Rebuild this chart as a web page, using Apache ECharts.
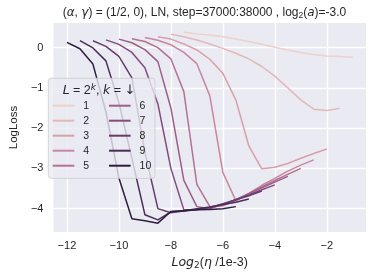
<!DOCTYPE html>
<html><head><meta charset="utf-8">
<script src="https://cdn.jsdelivr.net/npm/echarts@6/dist/echarts.min.js"></script>
<style>html,body{margin:0;padding:0;background:#fff}#c{width:374px;height:276px}</style>
</head><body><div id="c"></div>
<script>
// log2(eta / 1e-3) grid of learning rates
const etaGrid = [-12, -11.5, -11, -10.5, -10, -9.5, -9, -8.5, -8, -7.5, -7, -6.5, -6, -5.5, -5, -4.5, -4, -3.5, -3, -2.5, -2, -1.5, -1];
// LogLoss per depth level k (L = 2^k); null = not run
const lossK1  = [null, null, null, null, null, null, null, null, null, 0.38, 0.34, 0.31, 0.27, 0.21, 0.15, 0.08, 0.01, -0.06, -0.12, -0.17, -0.21, -0.22, -0.24];
const lossK2  = [null, null, null, null, null, null, null, null, 0.33, 0.27, 0.19, 0.09, -0.02, -0.14, -0.28, -0.47, -0.71, -1.0, -1.3, -1.53, -1.56, -1.51, null];
const lossK3  = [null, null, null, null, null, null, null, 0.27, 0.21, 0.09, -0.06, -0.29, -0.64, -1.3, -2.44, -3.01, -2.97, -2.88, -2.75, -2.63, -2.52, null, null];
const lossK4  = [null, null, null, null, null, null, 0.25, 0.18, 0.07, -0.12, -0.4, -1.2, -3.1, -3.8, -3.62, -3.42, -3.25, -3.07, -2.92, -2.79, null, null, null];
const lossK5  = [null, null, null, null, null, 0.22, 0.15, 0.0, -0.28, -1.1, -3.4, -3.95, -3.93, -3.8, -3.63, -3.46, -3.3, -3.15, -3.0, null, null, null, null];
const lossK6  = [null, null, null, null, 0.21, 0.12, -0.05, -0.35, -1.5, -3.3, -3.95, -4.0, -3.9, -3.77, -3.63, -3.48, -3.34, -3.2, null, null, null, null, null];
const lossK7  = [null, null, null, 0.19, 0.08, -0.12, -0.5, -1.4, -3.0, -4.03, -4.03, -3.98, -3.9, -3.78, -3.66, -3.53, -3.41, null, null, null, null, null, null];
const lossK8  = [null, null, 0.17, 0.03, -0.22, -0.75, -2.6, -4.0, -4.1, -4.06, -4.02, -3.97, -3.88, -3.78, -3.68, -3.56, null, null, null, null, null, null, null];
const lossK9  = [null, 0.17, -0.01, -0.33, -1.37, -2.75, -4.15, -4.28, -4.08, -4.05, -4.0, -3.96, -3.9, -3.84, -3.76, null, null, null, null, null, null, null, null];
const lossK10 = [0.13, -0.03, -0.41, -1.6, -3.24, -4.25, -4.3, -4.36, -4.07, -4.05, -4.03, -4.02, -4.0, -3.95, null, null, null, null, null, null, null, null, null];
const kLevels = [1, 2, 3, 4, 5, 6, 7, 8, 9, 10];
const xTicks = [-12, -10, -8, -6, -4, -2];
const yTicks = [-4, -3, -2, -1, 0];

const lossSeries = [lossK1, lossK2, lossK3, lossK4, lossK5, lossK6, lossK7, lossK8, lossK9, lossK10];

// seaborn default numeric-hue palette (cubehelix, light .85 -> dark .15)
function cubehelix(x) {
  const a = 0.8 * x * (1 - x) / 2;
  const phi = 2 * Math.PI * (0.4 * x);
  const c = Math.cos(phi), s = Math.sin(phi);
  const cl = v => Math.round(Math.max(0, Math.min(1, v)) * 255);
  const r = x + a * (-0.14861 * c + 1.78277 * s);
  const g = x + a * (-0.29227 * c - 0.90649 * s);
  const b = x + a * (1.97294 * c);
  return 'rgb(' + cl(r) + ',' + cl(g) + ',' + cl(b) + ')';
}
const kMin = Math.min(...kLevels), kMax = Math.max(...kLevels);
const colors = kLevels.map(k => cubehelix(0.85 - (k - kMin) / (kMax - kMin) * 0.7));

const fmt = v => (v < 0 ? '\u2212' + Math.abs(v) : String(v));
const TXT = '#262626';
const SANS = 'Liberation Sans, Arial, DejaVu Sans, sans-serif';
const MATH = 'DejaVu Sans';

const chart = echarts.init(document.getElementById('c'), null, {renderer: 'canvas'});
chart.setOption({
  animation: false,
  grid: {left: 43.3, right: 8, top: 23, bottom: 44, show: true, backgroundColor: '#eaeaf2', borderWidth: 0},
  xAxis: {
    type: 'value', min: -12.52, max: -0.49,
    axisLine: {show: false},
    axisTick: {show: false, customValues: xTicks},
    axisLabel: {customValues: xTicks, formatter: fmt, color: TXT, fontSize: 11, fontFamily: SANS, margin: 8},
    splitLine: {show: true, lineStyle: {color: '#ffffff', width: 1.4}},
    name: '{mi|Log}{sub|2}({mi|\u03b7} /1e-3)',
    nameLocation: 'middle', nameGap: 20,
    nameTextStyle: {
      color: TXT, fontSize: 12.5, fontFamily: SANS,
      rich: {
        mi: {fontStyle: 'italic', fontFamily: MATH, fontSize: 12.5, color: TXT},
        sub: {fontSize: 9, fontFamily: MATH, color: TXT, padding: [6, 0, 0, 0]}
      }
    }
  },
  yAxis: {
    type: 'value', min: -4.58, max: 0.61,
    axisLine: {show: false},
    axisTick: {show: false, customValues: yTicks},
    axisLabel: {customValues: yTicks, formatter: fmt, color: TXT, fontSize: 11, fontFamily: SANS, margin: 10},
    splitLine: {show: true, lineStyle: {color: '#ffffff', width: 1.4}},
    name: 'LogLoss', nameLocation: 'middle', nameGap: 30,
    nameTextStyle: {color: TXT, fontSize: 11.5, fontFamily: SANS}
  },
  legend: [0, 1].map(col => ({
    data: kLevels.slice(col * 5, col * 5 + 5).map(String),
    orient: 'vertical', left: col === 0 ? 52.7 : 109, top: 98.2,
    icon: 'rect', itemWidth: 21.6, itemHeight: 2, itemGap: 0, padding: 0,
    selectedMode: false, z: 10,
    textStyle: {fontSize: 10.5, color: TXT, fontFamily: SANS, lineHeight: 15, padding: [0, 0, 0, 4]}
  })),
  graphic: [
    {type: 'rect', z: 5, shape: {x: 48.3, y: 78.3, width: 106.7, height: 100, r: 3},
     style: {fill: 'rgba(234,234,242,0.8)', stroke: 'rgba(204,204,204,0.8)', lineWidth: 1}},
    {type: 'text', z: 11, x: 99, y: 91,
     style: {text: '{mi|L} = 2{sup|k}, {mi|k} = {ar|\u2193}', align: 'center', verticalAlign: 'middle',
       fill: TXT, fontSize: 12.5, fontFamily: SANS,
       rich: {
         mi: {fontStyle: 'italic', fontFamily: MATH, fontSize: 12.5, fill: TXT},
         ar: {fontFamily: MATH, fontSize: 13, fill: TXT},
         sup: {fontStyle: 'italic', fontFamily: MATH, fontSize: 9, fill: TXT, padding: [0, 0, 7, 0]}
       }}},
    {type: 'text', z: 11, x: 204.5, y: 13,
     style: {text: '({mi|\u03b1}, {mi|\u03b3}) = (1/2, 0), LN, step=37000:38000 , log{sub|2}({mi|a})=-3.0',
       align: 'center', verticalAlign: 'middle', fill: TXT, fontSize: 12, fontFamily: SANS,
       rich: {
         mi: {fontStyle: 'italic', fontFamily: MATH, fontSize: 12, fill: TXT},
         sub: {fontSize: 8.5, fontFamily: SANS, fill: TXT, padding: [6, 0, 0, 0]}
       }}}
  ],
  series: lossSeries.map((arr, i) => ({
    type: 'line', name: String(kLevels[i]),
    data: etaGrid.map((e, j) => [e, arr[j]]).filter(p => p[1] !== null),
    symbol: 'none', showSymbol: false, z: 2,
    lineStyle: {width: 1.5, color: colors[i]},
    itemStyle: {color: colors[i]},
    emphasis: {disabled: true}
  }))
});
</script></body></html>
